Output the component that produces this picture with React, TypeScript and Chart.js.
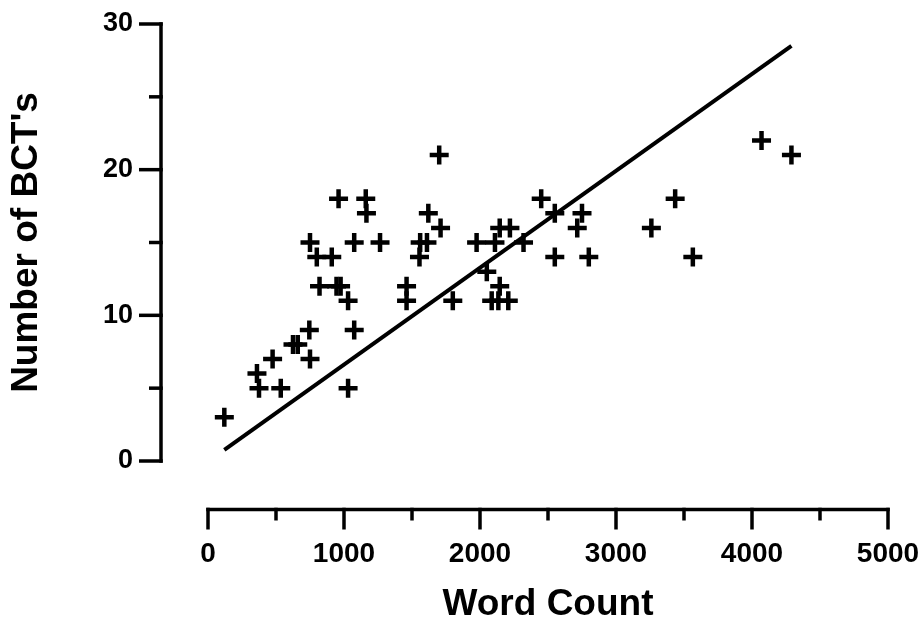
import React, { useEffect, useRef } from "react";
import { Chart, registerables } from "chart.js";

Chart.register(...registerables);

// Data
const wordCount = [120, 360, 375, 535, 475, 625, 660, 745, 750, 1030, 1075, 1030, 1460, 1460, 820, 945, 975, 750, 800, 910, 960, 1160, 1165, 1075, 1265, 1620, 1560, 1610, 1555, 1710, 1700, 1800, 1975, 2110, 2145, 2220, 2320, 2050, 2145, 2086, 2135, 2208, 2450, 2550, 2750, 2715, 2550, 2800, 4070, 4290, 3435, 3260, 3565];
const bctCount = [3, 6, 5, 5, 7, 8, 8, 9, 7, 5, 9, 11, 12, 11, 12, 12, 12, 15, 14, 14, 18, 18, 17, 15, 15, 17, 15, 15, 14, 16, 21, 11, 15, 15, 16, 16, 15, 13, 12, 11, 11, 11, 18, 17, 17, 16, 14, 14, 22, 21, 18, 16, 14];

// Regression line end points
const fitX = [120, 4290];
const fitY = [0.76, 28.5];

// Axis ticks
const xTickValues = [0, 500, 1000, 1500, 2000, 2500, 3000, 3500, 4000, 4500, 5000];
const yTickValues = [0, 5, 10, 15, 20, 25, 30];
const xMajorStep = 1000;
const yMajorStep = 10;

const xTitle = "Word Count";
const yTitle = "Number of BCT's";

const axesPlugin = {
  id: "detachedAxes",
  afterDraw(chart: any) {
    const { ctx, chartArea } = chart;
    const xs = chart.scales.x;
    const ys = chart.scales.y;
    const lw = 3.5;
    ctx.save();
    ctx.strokeStyle = "#000";
    ctx.lineWidth = lw;
    ctx.lineCap = "butt";
    // Y axis
    const ax = chartArea.left - 47;
    const yTop = ys.getPixelForValue(yTickValues[yTickValues.length - 1]);
    const yBot = ys.getPixelForValue(yTickValues[0]);
    ctx.beginPath();
    ctx.moveTo(ax, yTop - lw / 2);
    ctx.lineTo(ax, yBot + lw / 2);
    ctx.stroke();
    ys.ticks.forEach((t: any) => {
      const py = ys.getPixelForValue(t.value);
      const len = t.value % yMajorStep === 0 ? 22 : 12;
      ctx.beginPath();
      ctx.moveTo(ax + lw / 2, py);
      ctx.lineTo(ax - len, py);
      ctx.stroke();
    });
    // X axis
    const ay = chartArea.bottom + 48.5;
    const xL = xs.getPixelForValue(xTickValues[0]);
    const xR = xs.getPixelForValue(xTickValues[xTickValues.length - 1]);
    ctx.beginPath();
    ctx.moveTo(xL - lw / 2, ay);
    ctx.lineTo(xR + lw / 2, ay);
    ctx.stroke();
    xs.ticks.forEach((t: any) => {
      const px = xs.getPixelForValue(t.value);
      const len = t.value % xMajorStep === 0 ? 20 : 11;
      ctx.beginPath();
      ctx.moveTo(px, ay - lw / 2);
      ctx.lineTo(px, ay + len);
      ctx.stroke();
    });
    ctx.restore();
  },
};

export default function App() {
  const ref = useRef<HTMLCanvasElement | null>(null);

  useEffect(() => {
    if (!ref.current) return;
    const points = wordCount.map((x, i) => ({ x, y: bctCount[i] }));
    const fit = fitX.map((x, i) => ({ x, y: fitY[i] }));
    const chart = new Chart(ref.current, {
      type: "scatter",
      data: {
        datasets: [
          {
            data: points,
            pointStyle: "cross",
            pointRadius: 9.5,
            pointHoverRadius: 9.5,
            borderWidth: 4.5,
            borderColor: "#000",
            backgroundColor: "#000",
            showLine: false,
          },
          {
            type: "line",
            data: fit,
            borderColor: "#000",
            borderWidth: 4,
            pointRadius: 0,
            fill: false,
            tension: 0,
          } as any,
        ],
      },
      options: {
        animation: false,
        responsive: false,
        devicePixelRatio: 1,
        layout: { padding: { top: 24, right: 34, left: 0, bottom: 0 } },
        plugins: { legend: { display: false }, tooltip: { enabled: false } },
        scales: {
          x: {
            type: "linear",
            position: "bottom",
            min: 0,
            max: 5000,
            afterBuildTicks: (s: any) => {
              s.ticks = xTickValues.map((v) => ({ value: v }));
            },
            afterFit: (s: any) => {
              s.height = 158;
              s.paddingLeft = 0;
              s.paddingRight = 0;
            },
            grid: { display: false, drawTicks: false },
            border: { display: false },
            ticks: {
              autoSkip: false,
              maxRotation: 0,
              minRotation: 0,
              padding: 79,
              color: "#000",
              font: { family: "'Liberation Sans', Arial, sans-serif", size: 28, weight: "bold", lineHeight: 1 },
              callback: (v: any) => (Number(v) % xMajorStep === 0 ? String(v) : ""),
            },
            title: {
              display: true,
              text: xTitle,
              color: "#000",
              font: { family: "'Liberation Sans', Arial, sans-serif", size: 37, weight: "bold", lineHeight: 0.76 },
              padding: { top: 0, bottom: 0 },
            },
          },
          y: {
            type: "linear",
            position: "left",
            min: 0,
            max: 30,
            afterBuildTicks: (s: any) => {
              s.ticks = yTickValues.map((v) => ({ value: v }));
            },
            afterFit: (s: any) => {
              s.width = 208;
              s.paddingTop = 0;
              s.paddingBottom = 0;
            },
            grid: { display: false, drawTicks: false },
            border: { display: false },
            ticks: {
              autoSkip: false,
              padding: 75,
              color: "#000",
              font: { family: "'Liberation Sans', Arial, sans-serif", size: 27, weight: "bold", lineHeight: 1 },
              callback: (v: any) => (Number(v) % yMajorStep === 0 ? String(v) : ""),
            },
            title: {
              display: true,
              text: yTitle,
              color: "#000",
              font: { family: "'Liberation Sans', Arial, sans-serif", size: 37, weight: "bold", lineHeight: 1 },
              padding: { top: 8.5, bottom: 0 },
            },
          },
        },
      },
      plugins: [axesPlugin],
    });
    return () => chart.destroy();
  }, []);

  return (
    <div style={{ position: "fixed", left: 0, top: 0, width: 922, height: 619, background: "#fff" }}>
      <canvas ref={ref} width={922} height={619} style={{ display: "block" }} />
    </div>
  );
}
